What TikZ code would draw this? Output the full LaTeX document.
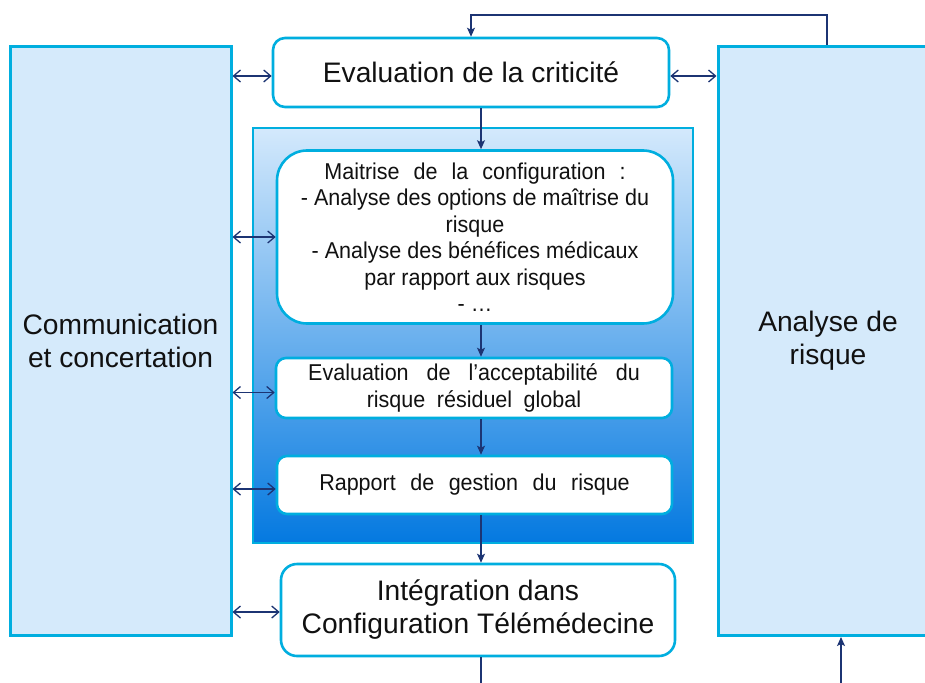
\documentclass[tikz,border=0pt]{standalone}
\usepackage{fontspec}
\setmainfont{Liberation Sans}
\newfontfamily\smallface[FakeStretch=0.94]{Liberation Sans}
\usetikzlibrary{arrows.meta,calc}
\definecolor{boxfill}{HTML}{D5EAFB}
\definecolor{edgecyan}{HTML}{00AEDF}
\definecolor{navy}{HTML}{1C3473}
\definecolor{gradtop}{HTML}{D4E9FC}
\definecolor{gradmid}{HTML}{6AB7FB}
\definecolor{gradbot}{HTML}{0479E0}
\definecolor{ink}{HTML}{111111}
% wider word spacing for a single line
\newcommand{\wide}[2]{{\spaceskip=#1pt plus 0pt minus 0pt\relax #2}}
\begin{document}
\begin{tikzpicture}[x=1pt,y=-1pt,
  bigtext/.style={font=\fontsize{28.2}{33}\selectfont},
  smalltext/.style={font=\smallface\fontsize{22.9}{26.5}\selectfont},
  sidebox/.style={draw=edgecyan, line width=3pt, fill=boxfill, inner sep=0pt,
    align=center, text=ink, bigtext},
  stepbox/.style={draw=edgecyan, line width=2.6pt, fill=white, inner sep=0pt,
    align=center, text=ink},
  panel/.style={draw=edgecyan, line width=2.6pt, inner sep=0pt,
    top color=gradtop, middle color=gradmid, bottom color=gradbot},
  link/.style={draw=navy, line width=1.3pt,
    {Straight Barb[length=7pt,width=12pt]}-{Straight Barb[length=7pt,width=12pt]}},
  flow/.style={draw=navy, line width=1.3pt, -{Stealth[length=9pt,width=8pt,inset=2pt]}},
  plain/.style={draw=navy, line width=1.3pt}]

\clip (0,0) rectangle (925,682);
\fill[white] (0,0) rectangle (925,682);

% side columns
\node[sidebox, minimum width=221, minimum height=589] (comm) at (120.5,341)
  {Communication\\et concertation};
\node[sidebox, minimum width=220, minimum height=589] (analyse) at (828,341)
  {Analyse de\\risque};

% top step
\node[stepbox, bigtext, rounded corners=12pt, minimum width=396, minimum height=69]
  (crit) at (471,72.5) {Evaluation de la criticité};

% shaded management panel
\node[panel, minimum width=440, minimum height=415] (mgmt) at (473,335.5) {};

% steps inside the panel
\node[stepbox, smalltext, rounded corners=30pt, minimum width=396, minimum height=173]
  (maitrise) at (475,237)
  {\wide{14}{Maitrise de la configuration :}\\
   - Analyse des options de maîtrise du\\
   risque\\
   - Analyse des bénéfices médicaux\\
   par rapport aux risques\\
   - …};
\node[stepbox, smalltext, rounded corners=10pt, minimum width=396, minimum height=60]
  (accept) at (474,388)
  {\wide{18}{Evaluation de l’acceptabilité du}\\\wide{11.5}{risque résiduel global}};
\node[stepbox, smalltext, rounded corners=10pt, minimum width=395, minimum height=58]
  (rapport) at (474.5,485) {\wide{14.5}{Rapport de gestion du risque}};

% bottom step
\node[stepbox, bigtext, rounded corners=16pt, minimum width=394, minimum height=92]
  (integ) at (478,610) {Intégration dans\\Configuration Télémédecine};

% helper coordinates
\coordinate (spine) at (481,0);
\coordinate (loop) at (827,15);
\coordinate (outA) at (481,690);
\coordinate (inB) at (841,690);

% vertical flow
\draw[flow] (crit.south -| spine) -- (maitrise.north -| spine);
\draw[flow] (maitrise.south -| spine) -- (accept.north -| spine);
\draw[flow] (accept.south -| spine) -- (rapport.north -| spine);
\draw[flow] (rapport.south -| spine) -- (integ.north -| spine);
\draw[plain] (integ.south -| spine) -- (outA);
\draw[flow] (inB) -- (analyse.south -| inB);

% feedback from the analysis back to the criticality step
\draw[flow] (analyse.north -| loop) -- (loop) -| (crit.north);

% exchanges with communication and analysis
\draw[link] ([yshift=-3.5pt]comm.east |- crit.west) -- ([yshift=-3.5pt]crit.west);
\draw[link] ([yshift=-3.5pt]crit.east) -- ([yshift=-3.5pt]analyse.west |- crit.east);
\draw[link] (comm.east |- maitrise.west) -- (maitrise.west);
\draw[link] ([yshift=-4.5pt]comm.east |- accept.west) -- ([yshift=-4.5pt]accept.west);
\draw[link] ([yshift=-4pt]comm.east |- rapport.west) -- ([yshift=-4pt]rapport.west);
\draw[link] ([yshift=-2pt]comm.east |- integ.west) -- ([yshift=-2pt]integ.west);
\end{tikzpicture}
\end{document}
